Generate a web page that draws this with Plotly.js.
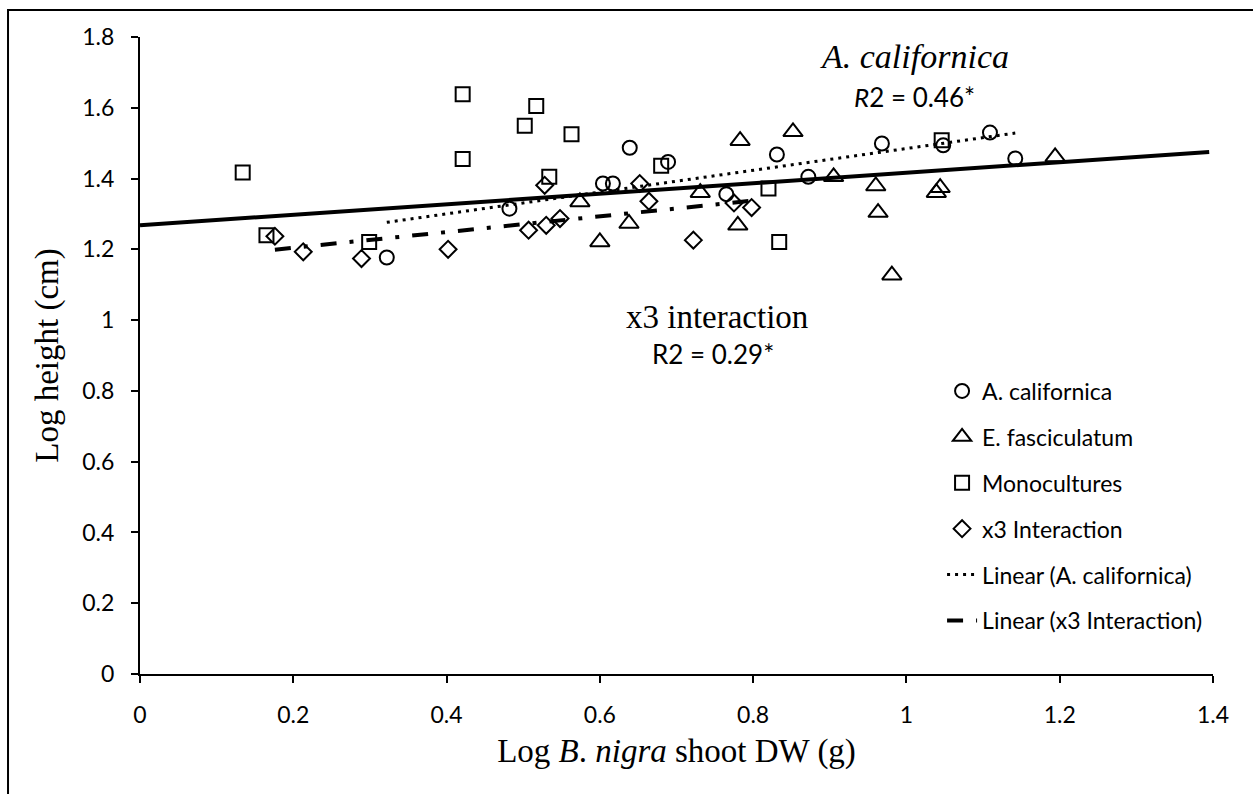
<!DOCTYPE html>
<html><head><meta charset="utf-8">
<script src="https://cdn.plot.ly/plotly-3.0.1.min.js"></script>
<style>html,body{margin:0;padding:0;background:#fff;} #chart{width:1253px;height:794px;}</style>
</head><body><div id="chart"></div>
<script>
// ---- data ----
const seriesNames = ["A. californica", "E. fasciculatum", "Monocultures", "x3 Interaction"];
const trendNames = ["Linear (A. californica)", "Linear (x3 Interaction)"];

const acX = [0.322, 0.482, 0.604, 0.617, 0.639, 0.689, 0.765, 0.831, 0.872, 0.968, 1.048, 1.109, 1.142];
const acY = [1.177, 1.315, 1.386, 1.386, 1.487, 1.447, 1.356, 1.468, 1.405, 1.499, 1.494, 1.530, 1.457];

const efX = [0.574, 0.600, 0.638, 0.731, 0.780, 0.783, 0.852, 0.905, 0.960, 0.963, 0.981, 1.039, 1.044, 1.194];
const efY = [1.334, 1.221, 1.273, 1.360, 1.268, 1.507, 1.532, 1.405, 1.379, 1.304, 1.127, 1.360, 1.374, 1.461];

const monoX = [0.134, 0.165, 0.299, 0.421, 0.421, 0.502, 0.517, 0.534, 0.563, 0.680, 0.820, 0.834, 1.046];
const monoY = [1.417, 1.240, 1.221, 1.638, 1.455, 1.549, 1.605, 1.405, 1.525, 1.436, 1.372, 1.221, 1.508];

const x3X = [0.176, 0.213, 0.289, 0.402, 0.507, 0.530, 0.528, 0.548, 0.652, 0.664, 0.722, 0.775, 0.798];
const x3Y = [1.237, 1.193, 1.174, 1.200, 1.254, 1.268, 1.381, 1.287, 1.386, 1.336, 1.226, 1.331, 1.318];

// solid overall line (not in legend), end points
const overallTrendX = [0, 1.395];
const overallTrendY = [1.268, 1.475];

const annTexts = ["<i>A. californica</i>", "<i>R</i>2 = 0.46*", "x3 interaction", "R2 = 0.29*"];
const annX = [1.011, 1.011, 0.753, 0.747];
const annY = [1.745, 1.630, 1.008, 0.905];

const xTitle = "Log <i>B</i>. <i>nigra</i> shoot DW (g)";
const yTitle = "Log height (cm)";

// ---- helpers ----
function linFit(xs, ys) {
  const n = xs.length;
  let mx = 0, my = 0;
  for (let i = 0; i < n; i++) { mx += xs[i]; my += ys[i]; }
  mx /= n; my /= n;
  let sxy = 0, sxx = 0;
  for (let i = 0; i < n; i++) { sxy += (xs[i]-mx)*(ys[i]-my); sxx += (xs[i]-mx)*(xs[i]-mx); }
  const b = sxy / sxx, a = my - b*mx;
  const x0 = Math.min(...xs), x1 = Math.max(...xs);
  return {x: [x0, x1], y: [a + b*x0, a + b*x1]};
}

const SANS = 'Lato, "Liberation Sans", sans-serif';
const SERIF = '"Liberation Serif", "Times New Roman", serif';

function mk(name, xs, ys, symbol, size) {
  return {type: 'scatter', mode: 'markers', name: name, x: xs, y: ys, legendgroup: name,
    marker: {symbol: symbol, size: size, color: 'black', line: {color: 'black', width: 2}},
    cliponaxis: false};
}

const acFit = linFit(acX, acY);
const x3Fit = linFit(x3X, x3Y);

const traces = [
  mk(seriesNames[0], acX, acY, 'circle-open', 14),
  mk(seriesNames[1], efX, efY, 'triangle-up-open', 17),
  mk(seriesNames[2], monoX, monoY, 'square-open', 14),
  mk(seriesNames[3], x3X, x3Y, 'diamond-open', 13),
  {type: 'scatter', mode: 'lines', name: 'overall', x: overallTrendX, y: overallTrendY,
   showlegend: false, legendgroup: 'overall', line: {color: 'black', width: 4}},
  {type: 'scatter', mode: 'lines', name: trendNames[0], legendgroup: trendNames[0], x: acFit.x, y: acFit.y,
   line: {color: 'black', width: 3, dash: '3px,5px'}},
  {type: 'scatter', mode: 'lines', name: trendNames[1], legendgroup: trendNames[1], x: x3Fit.x, y: x3Fit.y,
   line: {color: 'black', width: 4, dash: '16px,13px,4px,13px'}}
];

const annFonts = [
  {family: SERIF, size: 34, color: 'black'},
  {family: SANS, size: 26, color: 'black'},
  {family: SERIF, size: 33, color: 'black'},
  {family: SANS, size: 26, color: 'black'}
];
const annotations = annTexts.map((t, i) => ({
  text: t, x: annX[i], y: annY[i], xref: 'x', yref: 'y', showarrow: false,
  xanchor: 'center', yanchor: 'middle', font: annFonts[i]
}));

const layout = {
  width: 1253, height: 794,
  margin: {l: 140, r: 40, t: 37, b: 120},
  paper_bgcolor: 'white', plot_bgcolor: 'white',
  showlegend: true,
  legend: {x: 0.7475, y: 0.478, xanchor: 'left', yanchor: 'top', bgcolor: 'rgba(0,0,0,0)',
           font: {family: SANS, size: 23, color: 'black'}, tracegroupgap: 13, traceorder: 'grouped'},
  xaxis: {range: [0, 1.4], tick0: 0, dtick: 0.2, showgrid: false, zeroline: false,
          showline: true, linecolor: 'black', linewidth: 2, ticks: 'outside', ticklen: 7,
          tickwidth: 2, tickcolor: 'black', ticklabelstandoff: 12,
          tickfont: {family: SANS, size: 23, color: 'black'},
          title: {text: xTitle, font: {family: SERIF, size: 33, color: 'black'}, standoff: 12}},
  yaxis: {range: [0, 1.8], tick0: 0, dtick: 0.2, showgrid: false, zeroline: false,
          showline: true, linecolor: 'black', linewidth: 2, ticks: 'outside', ticklen: 7,
          tickwidth: 2, tickcolor: 'black', ticklabelstandoff: 12,
          tickfont: {family: SANS, size: 23, color: 'black'},
          title: {text: yTitle, font: {family: SERIF, size: 33, color: 'black'}, standoff: 14}},
  annotations: annotations,
  shapes: [{type: 'rect', xref: 'paper', yref: 'paper', x0: -0.123, x1: 1.05, y0: -0.25, y1: 1.0424,
            line: {color: 'black', width: 2}, fillcolor: 'rgba(0,0,0,0)', layer: 'below'}]
};

Plotly.newPlot('chart', traces, layout, {displayModeBar: false, staticPlot: true});
</script>
</body></html>
